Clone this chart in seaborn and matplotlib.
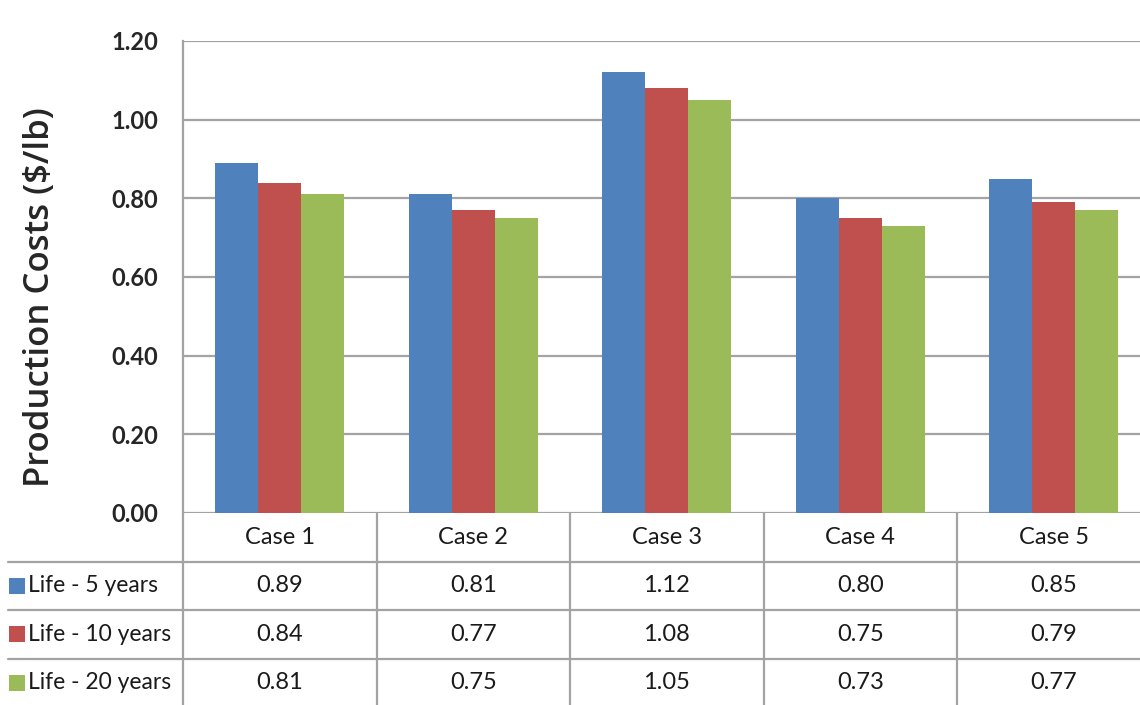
import matplotlib
matplotlib.use("Agg")
import matplotlib.pyplot as plt
import seaborn as sns
import pandas as pd

# ---- data ----
cases = ["Case 1", "Case 2", "Case 3", "Case 4", "Case 5"]
series = ["Life - 5 years", "Life - 10 years", "Life - 20 years"]
life_5 = [0.89, 0.81, 1.12, 0.80, 0.85]
life_10 = [0.84, 0.77, 1.08, 0.75, 0.79]
life_20 = [0.81, 0.75, 1.05, 0.73, 0.77]
yticks = [0.0, 0.2, 0.4, 0.6, 0.8, 1.0, 1.2]
colors = ["#4F81BD", "#C0504D", "#9BBB59"]

values = [life_5, life_10, life_20]
df = pd.DataFrame(
    [(c, s, v) for s, vals in zip(series, values) for c, v in zip(cases, vals)],
    columns=["case", "life", "cost"],
)

sns.set_theme(style="white")
plt.rcParams["font.family"] = ["Lato", "DejaVu Sans"]

W, H = 1140, 705
fig = plt.figure(figsize=(W / 100, H / 100), dpi=100)

# plot area in pixel geometry
x0, cat_w = 183, 193.5
y_top, y_bot = 41, 513
n = len(cases)
ax = fig.add_axes([x0 / W, (H - y_bot) / H, n * cat_w / W, (y_bot - y_top) / H])

grid_c = "#A3A3A3"
sns.barplot(data=df, x="case", y="cost", hue="life", palette=colors,
            hue_order=series, order=cases, width=0.667, saturation=1,
            linewidth=0, legend=False, ax=ax, zorder=3)
ax.set_xlim(-0.5, n - 0.5)
ax.set_ylim(0, 1.2)
ax.set_yticks(yticks)
ax.set_yticklabels([f"{t:.2f}" for t in yticks], fontsize=17, fontweight="bold",
                   color="#262626")
ax.tick_params(axis="y", length=0, pad=18)
ax.set_xticks([])
ax.set_xlabel("")
ax.set_ylabel("")
ax.grid(axis="y", color=grid_c, linewidth=1.6, zorder=0)
for side in ["top", "right", "bottom"]:
    ax.spines[side].set_visible(False)
ax.spines["left"].set_color(grid_c)
ax.spines["left"].set_linewidth(1.6)

fig.text(40 / W, 1 - 297 / H, "Production Costs ($/lb)", rotation=90,
         ha="center", va="center", fontsize=25, fontweight="semibold",
         family=["Open Sans", "DejaVu Sans"], color="#262626")

# ---- data table beneath the chart ----
xl = -0.5 - x0 / cat_w
xr = -0.5 + (W - x0) / cat_w
row_h = 48.5
tab_top = y_bot
tab_bot = tab_top + 4 * row_h
tab = fig.add_axes([0, (H - tab_bot) / H, 1, (tab_bot - tab_top) / H])
tab.set_xlim(xl, xr)
tab.set_ylim(4, 0)
tab.axis("off")

line_kw = dict(color=grid_c, linewidth=1.6, clip_on=False)
# horizontal row separators
for r in [1, 2, 3]:
    tab.plot([xl + 8 / cat_w, xr], [r, r], **line_kw)
# vertical column separators
for k in range(n + 1):
    tab.plot([k - 0.5, k - 0.5], [0, 4], **line_kw)

txt_c = "#1a1a1a"
for i, c in enumerate(cases):
    tab.text(i, 0.5, c, ha="center", va="center", fontsize=17, color=txt_c)
for r, (s, vals, col) in enumerate(zip(series, values, colors), start=1):
    for i, v in enumerate(vals):
        tab.text(i, r + 0.5, f"{v:.2f}", ha="center", va="center",
                 fontsize=17, color=txt_c)
    tab.scatter([xl + 17 / cat_w], [r + 0.5], marker="s", s=130, color=col,
                linewidths=0, clip_on=False)
    tab.text(xl + 28 / cat_w, r + 0.5, s, ha="left", va="center",
             fontsize=16.5, color=txt_c)

fig.savefig("out.png", dpi=100)
